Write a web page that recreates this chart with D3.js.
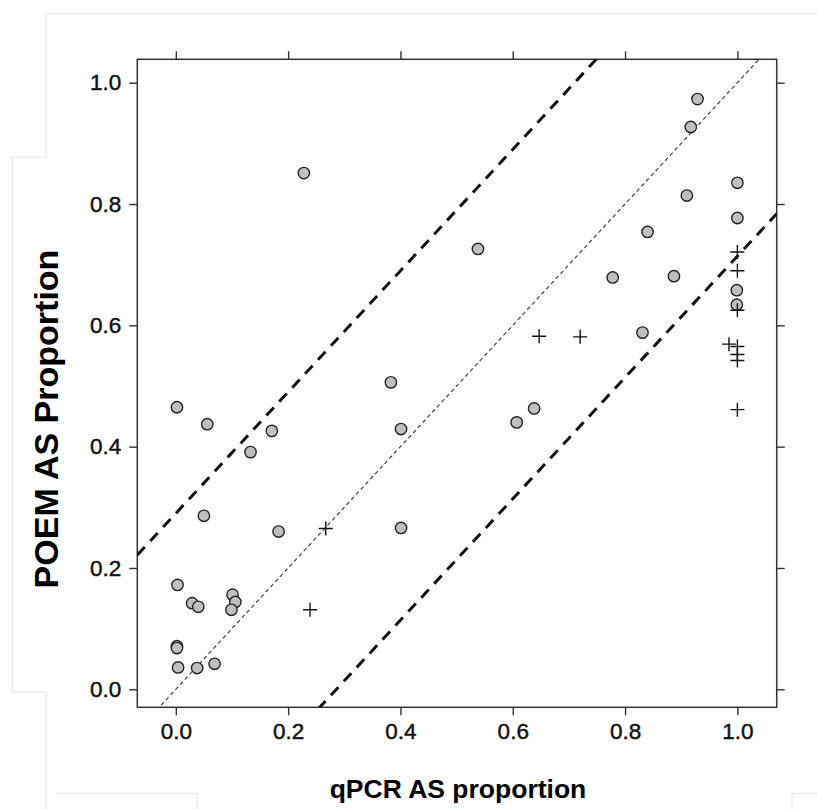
<!DOCTYPE html>
<html>
<head>
<meta charset="utf-8"/>
<script src="https://d3js.org/d3.v7.min.js"></script>
<style type="text/css">
  body { margin: 0; background: #fff; }
  svg { display: block; }
  .tick text { font-family: "Liberation Sans", Arial, sans-serif; font-size: 22.5px; fill: #111; stroke: #111; stroke-width: 0.45px; }
  .lab { font-family: "Liberation Sans", Arial, sans-serif; font-weight: bold; fill: #000; }
</style>
</head>
<body>
<div id="chart"></div>
<script type="text/javascript">
  // points drawn as grey circles
  var circleX = [0.228, 0.929, 0.917, 1.000, 0.910, 1.000, 0.840, 0.538, 0.778, 0.887, 0.999, 0.999,
                 0.831, 0.383, 0.401, 0.638, 0.607, 0.401, 0.002, 0.056, 0.171, 0.133, 0.050, 0.183,
                 0.003, 0.029, 0.040, 0.101, 0.106, 0.099, 0.002, 0.002, 0.004, 0.038, 0.069];
  var circleY = [0.851, 0.973, 0.927, 0.835, 0.814, 0.777, 0.754, 0.726, 0.679, 0.681, 0.658, 0.634,
                 0.588, 0.506, 0.429, 0.463, 0.440, 0.266, 0.465, 0.437, 0.426, 0.391, 0.286, 0.260,
                 0.172, 0.142, 0.136, 0.156, 0.144, 0.131, 0.071, 0.068, 0.036, 0.035, 0.042];
  // points drawn as plus signs
  var plusX = [1.000, 1.000, 1.000, 0.647, 0.720, 0.985, 1.000, 1.000, 1.000, 1.000, 0.267, 0.239];
  var plusY = [0.721, 0.690, 0.625, 0.582, 0.581, 0.569, 0.565, 0.552, 0.542, 0.461, 0.265, 0.131];

  // reference lines y = x + b
  var bandIntercepts = [0.29, -0.286];
  var identityIntercept = 0;

  var ticks = [0, 0.2, 0.4, 0.6, 0.8, 1.0];
  var xTitle = "qPCR AS proportion";
  var yTitle = "POEM AS Proportion";

  var W = 817, H = 809;
  // plot box (note: "top" is reserved on window, so use a box object)
  var box = {l: 137.3, r: 776.7, t: 59.3, b: 707.3};

  var svg = d3.select("#chart").append("svg").attr("width", W).attr("height", H);

  // faint frame left over from the page the chart was cut from
  var frame = [
    [[46, 809], [46, 692], [12.5, 692], [12.5, 157], [46, 157], [46, 13.5], [817, 13.5]],
    [[56, 793.5], [197, 793.5], [197, 809]],
    [[817, 793.5], [792, 793.5], [792, 809]]
  ];
  frame.forEach(function(f) {
    svg.append("path").attr("d", d3.line()(f))
      .attr("fill", "none").attr("stroke", "#e6e6e6").attr("stroke-width", 1.2);
  });

  var x = d3.scaleLinear().domain([-0.0686, 1.070]).range([box.l, box.r]);
  var y = d3.scaleLinear().domain([-0.0297, 1.0386]).range([box.b, box.t]);
  var fmt = d3.format(".1f");

  svg.append("defs").append("clipPath").attr("id", "clip")
    .append("rect").attr("x", box.l).attr("y", box.t)
    .attr("width", box.r - box.l).attr("height", box.b - box.t);

  function styleAxis(g) {
    g.select(".domain").remove();
    g.selectAll(".tick line").attr("stroke", "#333").attr("stroke-width", 1.4);
  }

  svg.append("g").attr("transform", "translate(0," + box.b + ")")
    .call(d3.axisBottom(x).tickValues(ticks).tickFormat(fmt).tickSize(8).tickPadding(8))
    .call(styleAxis);
  svg.append("g").attr("transform", "translate(0," + box.t + ")")
    .call(d3.axisTop(x).tickValues(ticks).tickFormat("").tickSize(8))
    .call(styleAxis);
  svg.append("g").attr("transform", "translate(" + box.l + ",0)")
    .call(d3.axisLeft(y).tickValues(ticks).tickFormat(fmt).tickSize(8).tickPadding(8))
    .call(styleAxis);
  svg.append("g").attr("transform", "translate(" + box.r + ",0)")
    .call(d3.axisRight(y).tickValues(ticks).tickFormat("").tickSize(8))
    .call(styleAxis);

  svg.append("rect").attr("x", box.l).attr("y", box.t)
    .attr("width", box.r - box.l).attr("height", box.b - box.t)
    .attr("fill", "none").attr("stroke", "#333").attr("stroke-width", 1.5);

  var plot = svg.append("g").attr("clip-path", "url(#clip)");
  var xs = x.domain();

  function refLine(b) {
    return d3.line()([[x(xs[0]), y(xs[0] + b)], [x(xs[1]), y(xs[1] + b)]]);
  }

  plot.append("path").attr("d", refLine(identityIntercept))
    .attr("fill", "none").attr("stroke", "#444").attr("stroke-width", 1.2)
    .attr("stroke-dasharray", "4,3");

  bandIntercepts.forEach(function(b) {
    plot.append("path").attr("d", refLine(b))
      .attr("fill", "none").attr("stroke", "#111").attr("stroke-width", 3)
      .attr("stroke-dasharray", "11,8");
  });

  var circles = d3.range(circleX.length).map(function(i) { return {x: circleX[i], y: circleY[i]}; });
  var pluses = d3.range(plusX.length).map(function(i) { return {x: plusX[i], y: plusY[i]}; });

  plot.selectAll(".pt").data(circles).enter().append("circle")
    .attr("class", "pt")
    .attr("cx", function(d) { return x(d.x); })
    .attr("cy", function(d) { return y(d.y); })
    .attr("r", 5.7)
    .attr("fill", "#bfbfbf").attr("stroke", "#222").attr("stroke-width", 1.4);

  var s = 7;
  plot.selectAll(".plus").data(pluses).enter().append("path")
    .attr("class", "plus")
    .attr("d", function(d) {
      var cx = x(d.x), cy = y(d.y);
      return "M" + (cx - s) + "," + cy + "H" + (cx + s) + "M" + cx + "," + (cy - s) + "V" + (cy + s);
    })
    .attr("fill", "none").attr("stroke", "#111").attr("stroke-width", 1.4);

  svg.append("text").attr("class", "lab")
    .attr("x", 458).attr("y", 798)
    .attr("text-anchor", "middle").style("font-size", "26.5px")
    .text(xTitle);

  svg.append("text").attr("class", "lab")
    .attr("transform", "translate(58,419) rotate(-90)")
    .attr("text-anchor", "middle").style("font-size", "34px")
    .text(yTitle);
</script>
</body>
</html>
